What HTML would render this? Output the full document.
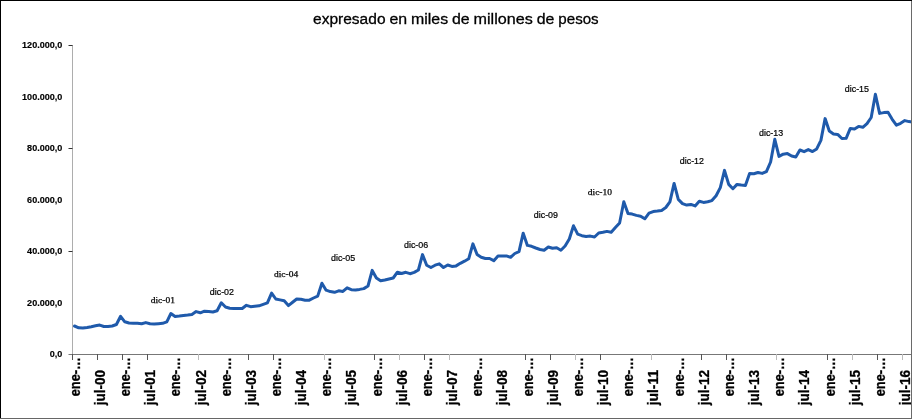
<!DOCTYPE html>
<html><head><meta charset="utf-8"><title>expresado en miles de millones de pesos</title>
<style>
html,body{margin:0;padding:0;background:#fff;}
body{width:912px;height:419px;overflow:hidden;}
svg{display:block;}
.t{font-family:"Liberation Sans",sans-serif;font-size:15.5px;fill:#000;stroke:#000;stroke-width:0.3px;}
.yl{font-family:"Liberation Sans",sans-serif;font-weight:bold;font-size:8.9px;fill:#000;stroke:#000;stroke-width:0.15px;}
.xl{font-family:"Liberation Sans",sans-serif;font-weight:bold;font-size:14.2px;fill:#000;stroke:#000;stroke-width:0.3px;}
.ds{font-family:"Liberation Serif",serif;font-size:8.9px;fill:#000;stroke:#000;stroke-width:0.25px;}
.dn{font-family:"Liberation Sans",sans-serif;font-size:8.5px;fill:#000;stroke:#000;stroke-width:0.2px;}
</style></head>
<body>
<svg width="912" height="419" viewBox="0 0 912 419">
<rect x="0" y="0" width="912" height="419" fill="#fff"/>
<g class="t"><text x="313.00" y="23.7" textLength="72.52" lengthAdjust="spacingAndGlyphs">expresado</text> <text x="389.43" y="23.7" textLength="17.68" lengthAdjust="spacingAndGlyphs">en</text> <text x="411.01" y="23.7" textLength="37.09" lengthAdjust="spacingAndGlyphs">miles</text> <text x="452.01" y="23.7" textLength="17.68" lengthAdjust="spacingAndGlyphs">de</text> <text x="473.59" y="23.7" textLength="59.25" lengthAdjust="spacingAndGlyphs">millones</text> <text x="536.75" y="23.7" textLength="17.68" lengthAdjust="spacingAndGlyphs">de</text> <text x="558.33" y="23.7" textLength="40.31" lengthAdjust="spacingAndGlyphs">pesos</text></g>
<g class="yl">
<text x="22.08" y="48.3" textLength="40.32" lengthAdjust="spacingAndGlyphs">120.000,0</text>
<text x="22.08" y="99.8" textLength="40.32" lengthAdjust="spacingAndGlyphs">100.000,0</text>
<text x="27.10" y="151.3" textLength="35.30" lengthAdjust="spacingAndGlyphs">80.000,0</text>
<text x="27.10" y="202.8" textLength="35.30" lengthAdjust="spacingAndGlyphs">60.000,0</text>
<text x="27.10" y="254.3" textLength="35.30" lengthAdjust="spacingAndGlyphs">40.000,0</text>
<text x="27.10" y="305.8" textLength="35.30" lengthAdjust="spacingAndGlyphs">20.000,0</text>
<text x="49.81" y="357.3" textLength="12.59" lengthAdjust="spacingAndGlyphs">0,0</text>
</g>
<line x1="72.5" y1="45" x2="72.5" y2="354.5" stroke="#adadad" stroke-width="1"/>
<g stroke="#333" stroke-width="1"><line x1="68.5" y1="45.5" x2="72.5" y2="45.5"/><line x1="68.5" y1="148.5" x2="72.5" y2="148.5"/><line x1="68.5" y1="251.5" x2="72.5" y2="251.5"/></g>
<line x1="68.5" y1="354.5" x2="911" y2="354.5" stroke="#777" stroke-width="1"/>
<g stroke-width="1"><line x1="72.5" y1="354" x2="72.5" y2="360" stroke="#555"/><line x1="97.5" y1="354" x2="97.5" y2="360" stroke="#555"/><line x1="122.5" y1="354" x2="122.5" y2="360" stroke="#555"/><line x1="147.5" y1="354" x2="147.5" y2="360" stroke="#555"/><line x1="198.5" y1="354" x2="198.5" y2="360" stroke="#bbb"/><line x1="248.5" y1="354" x2="248.5" y2="360" stroke="#555"/><line x1="273.5" y1="354" x2="273.5" y2="360" stroke="#555"/><line x1="324.5" y1="354" x2="324.5" y2="360" stroke="#bbb"/><line x1="374.5" y1="354" x2="374.5" y2="360" stroke="#555"/><line x1="399.5" y1="354" x2="399.5" y2="360" stroke="#bbb"/><line x1="424.5" y1="354" x2="424.5" y2="360" stroke="#555"/><line x1="449.5" y1="354" x2="449.5" y2="360" stroke="#bbb"/><line x1="525.5" y1="354" x2="525.5" y2="360" stroke="#555"/><line x1="550.5" y1="354" x2="550.5" y2="360" stroke="#555"/><line x1="575.5" y1="354" x2="575.5" y2="360" stroke="#bbb"/><line x1="600.5" y1="354" x2="600.5" y2="360" stroke="#555"/><line x1="651.5" y1="354" x2="651.5" y2="360" stroke="#bbb"/><line x1="701.5" y1="354" x2="701.5" y2="360" stroke="#555"/><line x1="726.5" y1="354" x2="726.5" y2="360" stroke="#555"/><line x1="776.5" y1="354" x2="776.5" y2="360" stroke="#bbb"/><line x1="827.5" y1="354" x2="827.5" y2="360" stroke="#555"/><line x1="852.5" y1="354" x2="852.5" y2="360" stroke="#bbb"/><line x1="877.5" y1="354" x2="877.5" y2="360" stroke="#555"/><line x1="902.5" y1="354" x2="902.5" y2="360" stroke="#bbb"/></g>
<g class="xl">
<text transform="translate(79.70,396.3) rotate(-90)" textLength="39.2" lengthAdjust="spacingAndGlyphs">ene-…</text>
<text transform="translate(104.86,405.3) rotate(-90)" textLength="35.4" lengthAdjust="spacingAndGlyphs">jul-00</text>
<text transform="translate(130.02,396.3) rotate(-90)" textLength="39.2" lengthAdjust="spacingAndGlyphs">ene-…</text>
<text transform="translate(155.18,405.3) rotate(-90)" textLength="35.4" lengthAdjust="spacingAndGlyphs">jul-01</text>
<text transform="translate(180.34,396.3) rotate(-90)" textLength="39.2" lengthAdjust="spacingAndGlyphs">ene-…</text>
<text transform="translate(205.50,405.3) rotate(-90)" textLength="35.4" lengthAdjust="spacingAndGlyphs">jul-02</text>
<text transform="translate(230.66,396.3) rotate(-90)" textLength="39.2" lengthAdjust="spacingAndGlyphs">ene-…</text>
<text transform="translate(255.82,405.3) rotate(-90)" textLength="35.4" lengthAdjust="spacingAndGlyphs">jul-03</text>
<text transform="translate(280.98,396.3) rotate(-90)" textLength="39.2" lengthAdjust="spacingAndGlyphs">ene-…</text>
<text transform="translate(306.14,405.3) rotate(-90)" textLength="35.4" lengthAdjust="spacingAndGlyphs">jul-04</text>
<text transform="translate(331.30,396.3) rotate(-90)" textLength="39.2" lengthAdjust="spacingAndGlyphs">ene-…</text>
<text transform="translate(356.46,405.3) rotate(-90)" textLength="35.4" lengthAdjust="spacingAndGlyphs">jul-05</text>
<text transform="translate(381.62,396.3) rotate(-90)" textLength="39.2" lengthAdjust="spacingAndGlyphs">ene-…</text>
<text transform="translate(406.78,405.3) rotate(-90)" textLength="35.4" lengthAdjust="spacingAndGlyphs">jul-06</text>
<text transform="translate(431.94,396.3) rotate(-90)" textLength="39.2" lengthAdjust="spacingAndGlyphs">ene-…</text>
<text transform="translate(457.10,405.3) rotate(-90)" textLength="35.4" lengthAdjust="spacingAndGlyphs">jul-07</text>
<text transform="translate(482.26,396.3) rotate(-90)" textLength="39.2" lengthAdjust="spacingAndGlyphs">ene-…</text>
<text transform="translate(507.42,405.3) rotate(-90)" textLength="35.4" lengthAdjust="spacingAndGlyphs">jul-08</text>
<text transform="translate(532.58,396.3) rotate(-90)" textLength="39.2" lengthAdjust="spacingAndGlyphs">ene-…</text>
<text transform="translate(557.74,405.3) rotate(-90)" textLength="35.4" lengthAdjust="spacingAndGlyphs">jul-09</text>
<text transform="translate(582.90,396.3) rotate(-90)" textLength="39.2" lengthAdjust="spacingAndGlyphs">ene-…</text>
<text transform="translate(608.06,405.3) rotate(-90)" textLength="35.4" lengthAdjust="spacingAndGlyphs">jul-10</text>
<text transform="translate(633.22,396.3) rotate(-90)" textLength="39.2" lengthAdjust="spacingAndGlyphs">ene-…</text>
<text transform="translate(658.38,405.3) rotate(-90)" textLength="35.4" lengthAdjust="spacingAndGlyphs">jul-11</text>
<text transform="translate(683.54,396.3) rotate(-90)" textLength="39.2" lengthAdjust="spacingAndGlyphs">ene-…</text>
<text transform="translate(708.70,405.3) rotate(-90)" textLength="35.4" lengthAdjust="spacingAndGlyphs">jul-12</text>
<text transform="translate(733.86,396.3) rotate(-90)" textLength="39.2" lengthAdjust="spacingAndGlyphs">ene-…</text>
<text transform="translate(759.02,405.3) rotate(-90)" textLength="35.4" lengthAdjust="spacingAndGlyphs">jul-13</text>
<text transform="translate(784.18,396.3) rotate(-90)" textLength="39.2" lengthAdjust="spacingAndGlyphs">ene-…</text>
<text transform="translate(809.34,405.3) rotate(-90)" textLength="35.4" lengthAdjust="spacingAndGlyphs">jul-14</text>
<text transform="translate(834.50,396.3) rotate(-90)" textLength="39.2" lengthAdjust="spacingAndGlyphs">ene-…</text>
<text transform="translate(859.66,405.3) rotate(-90)" textLength="35.4" lengthAdjust="spacingAndGlyphs">jul-15</text>
<text transform="translate(884.82,396.3) rotate(-90)" textLength="39.2" lengthAdjust="spacingAndGlyphs">ene-…</text>
<text transform="translate(909.98,405.3) rotate(-90)" textLength="35.4" lengthAdjust="spacingAndGlyphs">jul-16</text>
</g>
<polyline points="74.5,326.0 78.7,327.8 82.9,328.0 87.1,327.4 91.3,326.7 95.5,325.8 99.7,325.1 103.9,326.5 108.0,326.5 112.2,326.0 116.4,324.5 120.6,316.3 124.8,321.8 129.0,323.0 133.2,323.2 137.4,323.3 141.6,323.8 145.8,322.6 150.0,323.8 154.2,324.1 158.4,323.7 162.6,323.3 166.8,321.8 170.9,313.5 175.1,316.5 179.3,316.1 183.5,315.5 187.7,315.0 191.9,314.4 196.1,311.6 200.3,312.8 204.5,311.2 208.7,311.5 212.9,312.0 217.1,310.8 221.3,302.8 225.5,307.0 229.7,308.2 233.8,308.6 238.0,308.6 242.2,308.5 246.4,305.3 250.6,306.7 254.8,306.2 259.0,305.8 263.2,304.3 267.4,302.8 271.6,293.1 275.8,299.0 280.0,299.9 284.2,300.8 288.4,305.6 292.6,302.3 296.7,299.0 300.9,299.3 305.1,300.2 309.3,300.2 313.5,298.0 317.7,296.1 321.9,283.2 326.1,290.2 330.3,291.6 334.5,292.3 338.7,290.8 342.9,291.4 347.1,287.8 351.3,289.7 355.5,289.9 359.6,289.4 363.8,288.6 368.0,286.0 372.2,270.4 376.4,278.0 380.6,280.8 384.8,280.0 389.0,279.0 393.2,278.0 397.4,272.2 401.6,273.5 405.8,272.3 410.0,273.7 414.2,272.4 418.4,270.0 422.5,254.6 426.7,265.2 430.9,267.5 435.1,265.2 439.3,263.8 443.5,267.5 447.7,265.0 451.9,266.4 456.1,265.9 460.3,263.3 464.5,261.2 468.7,258.8 472.9,243.9 477.1,254.5 481.2,257.3 485.4,258.5 489.6,258.5 493.8,260.7 498.0,256.0 502.2,255.9 506.4,255.9 510.6,257.3 514.8,253.5 519.0,251.6 523.2,233.2 527.4,245.4 531.6,246.3 535.8,248.0 540.0,249.5 544.1,250.2 548.3,247.0 552.5,248.3 556.7,247.8 560.9,250.2 565.1,246.0 569.3,239.0 573.5,225.8 577.7,234.2 581.9,235.7 586.1,236.5 590.3,236.1 594.5,237.0 598.7,233.0 602.9,232.3 607.0,231.4 611.2,232.2 615.4,227.5 619.6,223.0 623.8,201.8 628.0,213.4 632.2,214.1 636.4,215.4 640.6,216.2 644.8,218.8 649.0,213.2 653.2,211.6 657.4,211.1 661.6,210.4 665.8,207.5 669.9,201.8 674.1,183.4 678.3,199.4 682.5,203.6 686.7,205.1 690.9,204.4 695.1,205.9 699.3,201.2 703.5,202.4 707.7,201.8 711.9,200.6 716.1,195.8 720.3,187.6 724.5,170.4 728.7,184.4 732.9,188.7 737.0,184.4 741.2,185.1 745.4,185.4 749.6,173.6 753.8,173.7 758.0,172.5 762.2,173.4 766.4,171.7 770.6,162.0 774.8,139.3 779.0,156.4 783.2,154.2 787.4,153.6 791.6,156.0 795.8,157.0 799.9,150.0 804.1,151.7 808.3,149.6 812.5,151.6 816.7,148.9 820.9,140.4 825.1,118.6 829.3,131.1 833.5,134.0 837.7,134.4 841.9,138.5 846.1,138.3 850.3,128.4 854.5,129.0 858.6,126.4 862.8,127.3 867.0,123.6 871.2,117.5 875.4,94.3 879.6,113.4 883.8,112.6 888.0,112.3 892.2,119.3 896.4,125.2 900.6,123.3 904.8,120.6 909.0,121.6 913.2,122.0" fill="none" stroke="#1f5aab" stroke-width="3" stroke-linejoin="round" stroke-linecap="round"/>
<g>
<text class="ds" x="150.7" y="303.2" textLength="24.2" lengthAdjust="spacingAndGlyphs">dic-01</text>
<text class="dn" x="209.8" y="295.0" textLength="24.2" lengthAdjust="spacingAndGlyphs">dic-02</text>
<text class="ds" x="274.0" y="277.0" textLength="24.2" lengthAdjust="spacingAndGlyphs">dic-04</text>
<text class="dn" x="331.0" y="261.2" textLength="24.2" lengthAdjust="spacingAndGlyphs">dic-05</text>
<text class="dn" x="404.0" y="248.0" textLength="24.2" lengthAdjust="spacingAndGlyphs">dic-06</text>
<text class="dn" x="533.8" y="218.3" textLength="24.2" lengthAdjust="spacingAndGlyphs">dic-09</text>
<text class="ds" x="587.8" y="195.0" textLength="24.2" lengthAdjust="spacingAndGlyphs">dic-10</text>
<text class="dn" x="679.8" y="164.2" textLength="24.2" lengthAdjust="spacingAndGlyphs">dic-12</text>
<text class="dn" x="759.0" y="136.1" textLength="24.2" lengthAdjust="spacingAndGlyphs">dic-13</text>
<text class="dn" x="844.8" y="92.4" textLength="24.2" lengthAdjust="spacingAndGlyphs">dic-15</text>
</g>
<rect x="0" y="0" width="912" height="1" fill="#000"/>
<rect x="0" y="0" width="1" height="419" fill="#000"/>
<rect x="0" y="418" width="912" height="1" fill="#666"/>
<rect x="911" y="1" width="1" height="418" fill="#6a6a6a"/>
</svg>
</body></html>
